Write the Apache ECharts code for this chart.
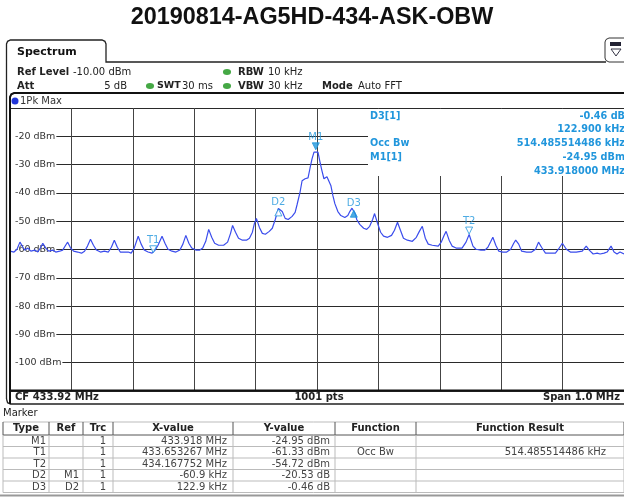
<!DOCTYPE html>
<html lang="en">
<head>
<meta charset="UTF-8">
<title>20190814-AG5HD-434-ASK-OBW</title>
<script src="https://cdn.jsdelivr.net/npm/echarts@6.0.0/dist/echarts.min.js"></script>
</head>
<body style="margin:0;background:#fff">
<div id="container" style="width:624px;height:504px"></div>
<script>
// trace: offset from CF (kHz) and level (dBm)
var traceOffsetKHz = [-500, -493.5, -488.6, -483.8, -478.9, -475.7, -470.8, -466.0, -459.5, -454.7,
  -449.8, -446.6, -441.7, -436.9, -430.4, -425.5, -419.1, -414.2, -409.4, -406.1,
  -401.3, -396.4, -389.9, -383.5, -378.6, -373.8, -368.9, -364.1, -359.2, -352.7,
  -346.3, -339.8, -334.9, -330.1, -325.2, -320.4, -313.9, -307.4, -302.6, -297.7,
  -291.2, -286.4, -281.5, -275.1, -268.6, -263.7, -258.9, -252.4, -247.6, -242.7,
  -236.2, -229.8, -223.3, -218.4, -213.6, -208.7, -203.9, -197.4, -190.9, -186.1,
  -181.2, -176.4, -171.5, -166.7, -160.2, -152.1, -145.6, -140.8, -137.5, -132.7,
  -127.8, -121.4, -114.9, -110.0, -105.2, -101.9, -98.7, -93.8, -89.0, -84.1,
  -77.7, -72.8, -68.0, -62.9, -59.9, -56.6, -51.8, -46.9, -40.5, -35.6,
  -32.4, -27.5, -24.3, -19.4, -14.6, -11.3, -8.1, -4.9, -2.0, 1.6,
  4.9, 8.1, 11.3, 16.2, 19.4, 22.7, 25.9, 29.1, 34.0, 38.8,
  45.3, 50.2, 53.4, 57.0, 60.0, 62.5, 64.7, 69.6, 76.0, 80.9,
  85.8, 90.6, 93.8, 98.7, 103.6, 108.4, 114.9, 121.4, 126.2, 131.1,
  135.9, 140.8, 147.2, 155.3, 161.8, 166.7, 171.5, 176.4, 181.2, 187.7,
  197.4, 202.3, 207.1, 210.3, 215.2, 220.0, 226.5, 236.2, 242.7, 247.8,
  254.0, 258.9, 267.0, 273.4, 278.3, 283.2, 286.4, 291.2, 296.1, 302.6,
  309.0, 315.5, 320.4, 323.6, 328.5, 333.3, 341.4, 349.5, 356.0, 360.8,
  365.7, 372.1, 380.2, 388.3, 393.2, 399.6, 406.1, 412.6, 422.3, 432.0,
  438.5, 443.3, 449.8, 456.3, 461.1, 467.6, 472.5, 478.9, 483.8, 488.6,
  493.5, 500];
var traceLevelDbm = [-60.6, -60.9, -59.9, -57.4, -59.2, -60.2, -59.5, -60.6, -60.2, -60.9,
  -59.2, -57.8, -59.5, -60.6, -60.2, -60.9, -60.6, -60.2, -58.5, -57.4,
  -59.5, -60.6, -60.9, -61.3, -60.6, -58.8, -56.4, -58.5, -60.2, -60.9,
  -60.6, -60.9, -59.2, -56.7, -59.2, -60.9, -60.9, -60.9, -61.3, -59.5,
  -55.3, -58.1, -60.2, -60.9, -61.3, -60.2, -58.5, -55.3, -57.8, -59.9,
  -60.6, -60.9, -60.2, -58.1, -55.0, -57.8, -59.5, -60.2, -60.2, -59.5,
  -57.1, -52.9, -55.7, -57.8, -58.5, -58.5, -57.4, -54.3, -51.5, -53.9,
  -56.0, -56.7, -56.7, -56.0, -53.9, -50.8, -49.0, -52.2, -54.3, -54.6,
  -53.6, -52.5, -49.4, -45.5, -44.8, -46.6, -49.0, -49.4, -48.3, -46.9,
  -44.1, -39.6, -35.7, -35.0, -34.7, -31.2, -28.0, -25.6, -24.95, -25.6,
  -29.1, -32.2, -35.0, -34.3, -35.0, -37.5, -41.0, -43.8, -46.6, -48.0,
  -48.7, -48.0, -46.6, -45.4, -45.9, -47.5, -49.4, -51.1, -52.5, -52.9,
  -51.8, -49.4, -47.3, -50.8, -53.9, -55.3, -55.7, -55.0, -53.2, -50.4,
  -53.2, -56.0, -56.7, -57.1, -55.7, -53.6, -51.8, -56.0, -58.1, -58.5,
  -58.8, -57.4, -55.0, -53.6, -56.7, -58.8, -59.5, -59.5, -57.4, -54.7,
  -58.8, -59.9, -60.2, -60.2, -59.2, -57.1, -55.7, -58.5, -60.6, -60.9,
  -60.9, -59.9, -57.8, -56.7, -58.1, -60.6, -60.9, -60.9, -59.9, -57.4,
  -59.2, -61.3, -61.3, -61.3, -59.9, -57.8, -59.9, -60.9, -60.9, -60.6,
  -58.8, -60.2, -61.6, -61.3, -61.6, -61.3, -60.9, -58.8, -60.9, -61.6,
  -60.9, -61.6];

var markerNames = ['M1', 'T1', 'T2', 'D2', 'D3'];
var markerOffsetKHz = [-2.0, -266.733, 247.752, -62.9, 60.0];
var markerLevelDbm = [-24.95, -61.33, -54.72, -45.48, -45.94];
var markerFilled = [true, false, false, false, true];
var markerDown = [true, true, true, false, false];

var infoLeft = ['D3[1]', '', 'Occ Bw', 'M1[1]', ''];
var infoRight = ['-0.46 dB', '122.900 kHz', '514.485514486 kHz', '-24.95 dBm', '433.918000 MHz'];

var tableHead = ['Type', 'Ref', 'Trc', 'X-value', 'Y-value', 'Function', 'Function Result'];
var tableType = ['M1', 'T1', 'T2', 'D2', 'D3'];
var tableRef = ['', '', '', 'M1', 'D2'];
var tableTrc = ['1', '1', '1', '1', '1'];
var tableX = ['433.918 MHz', '433.653267 MHz', '434.167752 MHz', '-60.9 kHz', '122.9 kHz'];
var tableY = ['-24.95 dBm', '-61.33 dBm', '-54.72 dBm', '-20.53 dB', '-0.46 dB'];
var tableFunc = ['', 'Occ Bw', '', '', ''];
var tableResult = ['', '514.485514486 kHz', '', '', ''];

var FONT = '"DejaVu Sans", Verdana, sans-serif';
var MK = '#2196dc';
var dom = document.getElementById('container');
var myChart = echarts.init(dom);

function txt(x, y, s, opt) {
    opt = opt || {};
    return {
        type: 'text', x: x, y: y, z: 5,
        style: {
            text: s,
            font: (opt.bold ? 'bold ' : '') + (opt.size || 10) + 'px ' + (opt.family || FONT),
            fill: opt.color || '#222',
            textAlign: opt.align || 'left',
            textVerticalAlign: 'middle'
        }
    };
}
function line(x1, y1, x2, y2, color, w) {
    return { type: 'line', z: 5, shape: { x1: x1, y1: y1, x2: x2, y2: y2 }, style: { stroke: color, lineWidth: w || 1 } };
}
function poly(points, color, w, fill) {
    return { type: fill ? 'polygon' : 'polyline', z: 5, shape: { points: points }, style: { fill: fill || null, stroke: color, lineWidth: w || 1 } };
}

var g = [];
// title
g.push(txt(312, 18, '20190814-AG5HD-434-ASK-OBW', { bold: true, size: 23.4, family: '"Liberation Sans", Arial, sans-serif', color: '#111', align: 'center' }));
// tab + panel frame
g.push(poly([[6.5, 399], [6.5, 44], [7.6, 41.3], [10.5, 40], [102, 40], [104.9, 41.3], [106, 44], [106, 62], [606, 62]], '#222', 1.3));
g.push(poly([[6.5, 399], [7.6, 402.7], [10.5, 404], [624, 404]], '#222', 1.3));
g.push(txt(17, 52, 'Spectrum', { bold: true, size: 11, color: '#111' }));
// icon on the right of the tab row
g.push(poly([[624, 62], [609, 62], [606, 60.5], [605, 58], [605, 42], [606, 39.5], [609, 38], [624, 38]], '#333', 1));
g.push({ type: 'rect', z: 5, shape: { x: 610, y: 42, width: 11, height: 4 }, style: { fill: '#223' } });
g.push(poly([[611, 49], [621, 49], [616, 56]], '#334', 1, '#fff'));

// setting rows
g.push(txt(17, 72, 'Ref Level', { bold: true }));
g.push(txt(73, 72, '-10.00 dBm'));
g.push(txt(17, 86, 'Att', { bold: true }));
g.push(txt(127, 86, '5 dB', { align: 'right' }));
g.push(txt(157, 86, 'SWT', { bold: true, size: 9.5 }));
g.push(txt(182, 86, '30 ms'));
g.push(txt(238, 72, 'RBW', { bold: true }));
g.push(txt(268, 72, '10 kHz'));
g.push(txt(238, 86, 'VBW', { bold: true }));
g.push(txt(268, 86, '30 kHz'));
g.push(txt(322, 86, 'Mode', { bold: true }));
g.push(txt(358, 86, 'Auto FFT'));
[[150, 86], [227, 72], [227, 86]].forEach(function (p) {
    g.push({ type: 'circle', z: 5, x: p[0], y: p[1], scaleX: 1.35, shape: { cx: 0, cy: 0, r: 3 }, style: { fill: '#45a845' } });
});

// trace window frame
g.push(poly([[10, 404], [10, 97], [11.3, 94.3], [14, 93], [624, 93]], '#111', 2));
g.push({ type: 'circle', z: 5, shape: { cx: 15, cy: 101, r: 3.5 }, style: { fill: '#2035d8' } });
g.push(txt(20, 101, '1Pk Max', { color: '#333' }));
g.push(line(10, 390.5, 624, 390.5, '#111', 2));
g.push(txt(15, 397, 'CF 433.92 MHz', { bold: true }));
g.push(txt(319, 397, '1001 pts', { bold: true, align: 'center' }));
g.push(txt(620, 397, 'Span 1.0 MHz', { bold: true, align: 'right' }));

// marker info box (covers the grid)
g.push({ type: 'rect', z: 1, shape: { x: 368, y: 109, width: 260, height: 67 }, style: { fill: '#fff' } });
for (var i = 0; i < infoRight.length; i++) {
    var yy = 116 + i * 13.8;
    if (infoLeft[i]) g.push(txt(370, yy, infoLeft[i], { bold: true, size: 9.7, color: MK }));
    g.push(txt(625, yy, infoRight[i], { bold: true, size: 9.7, color: MK, align: 'right' }));
}

// marker table
var cols = [3, 49, 83, 113, 233, 335, 416, 624];
var headTop = 422, headH = 13, rowH = 11.5;
var tableBottom = headTop + headH + rowH * tableType.length;
g.push(txt(3, 413, 'Marker', { color: '#222' }));
for (var r = 0; r <= tableType.length; r++) {
    var ly = headTop + headH + r * rowH;
    g.push(line(3, ly, 624, ly, r === 0 ? '#555' : '#bbb', 1));
}
g.push(line(3, headTop, 624, headTop, '#bbb', 1));
for (var c = 0; c < cols.length; c++) {
    g.push(line(cols[c], headTop, cols[c], headTop + headH, '#555', 1));
    g.push(line(cols[c], headTop + headH, cols[c], tableBottom, '#bbb', 1));
    if (c < tableHead.length) {
        g.push(txt((cols[c] + cols[c + 1]) / 2, headTop + headH / 2, tableHead[c], { bold: true, align: 'center', color: '#222' }));
    }
}
var body = [tableType, tableRef, tableTrc, tableX, tableY, tableFunc, tableResult];
var pads = [3, 4, 7, 6, 5, 0, 18];
for (var r = 0; r < tableType.length; r++) {
    var cy = headTop + headH + r * rowH + rowH / 2 + 0.5;
    for (var c = 0; c < body.length; c++) {
        if (!body[c][r]) continue;
        if (c === 5) g.push(txt((cols[c] + cols[c + 1]) / 2, cy, body[c][r], { align: 'center', color: '#444' }));
        else g.push(txt(cols[c + 1] - pads[c], cy, body[c][r], { align: 'right', color: '#444' }));
    }
}
g.push(line(0, tableBottom + 3, 624, tableBottom + 3, '#999', 2));

var markerData = markerNames.map(function (n, i) {
    var down = markerDown[i];
    return {
        value: [markerOffsetKHz[i], markerLevelDbm[i]],
        name: n,
        symbol: 'triangle',
        symbolSize: [7, 7],
        symbolRotate: down ? 180 : 0,
        symbolOffset: [0, down ? -4 : 4],
        itemStyle: { color: markerFilled[i] ? MK : '#fff', borderColor: MK, borderWidth: 1 },
        label: { show: true, formatter: n, position: 'top', distance: down ? 0 : 1 }
    };
});

var option = {
    animation: false,
    grid: { left: 10, top: 108, width: 618, height: 283 },
    xAxis: {
        type: 'value', min: -500, max: 500, interval: 100,
        axisLine: { show: false }, axisTick: { show: false }, axisLabel: { show: false },
        splitLine: { show: true, lineStyle: { color: '#444', width: 1 } }
    },
    yAxis: {
        type: 'value', min: -110, max: -10, interval: 10,
        axisLine: { show: false }, axisTick: { show: false },
        axisLabel: {
            inside: true, margin: 0, fontSize: 9.5, fontFamily: FONT, color: '#333',
            backgroundColor: '#fff', padding: [0, 1, 0, 5],
            formatter: function (v) { return (v === -10 || v === -110) ? '' : v + ' dBm'; }
        },
        splitLine: { show: true, lineStyle: { color: '#2a2a2a', width: 1 } }
    },
    graphic: g,
    series: [
        {
            name: '1Pk Max', type: 'line',
            data: traceOffsetKHz.map(function (k, i) { return [k, traceLevelDbm[i]]; }),
            showSymbol: false, symbol: 'none',
            lineStyle: { color: '#3a4cec', width: 1.2 },
            z: 2
        },
        {
            name: 'Markers', type: 'scatter', z: 4,
            data: markerData,
            label: { color: MK, fontSize: 10, fontFamily: FONT }
        }
    ]
};
myChart.setOption(option);
</script>
</body>
</html>
